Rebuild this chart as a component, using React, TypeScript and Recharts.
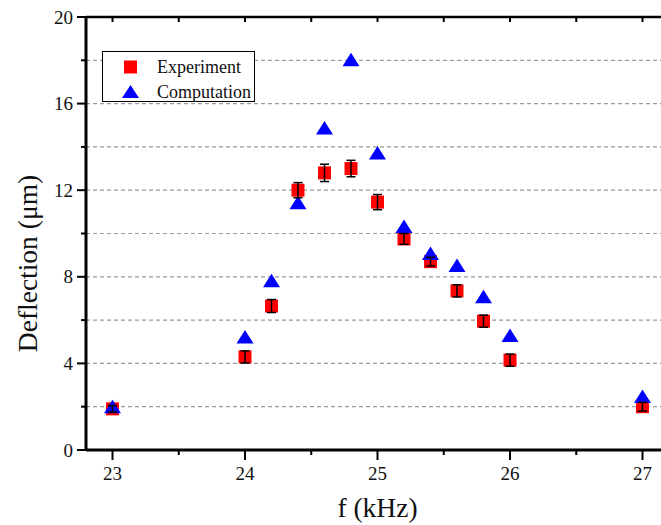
import { ComposedChart, Scatter, XAxis, YAxis, CartesianGrid, ErrorBar } from 'recharts';

const freq = [23, 24, 24.2, 24.4, 24.6, 24.8, 25, 25.2, 25.4, 25.6, 25.8, 26, 27];
const experiment = [1.9, 4.3, 6.65, 12.0, 12.8, 13.0, 11.45, 9.75, 8.7, 7.35, 5.95, 4.15, 2.0];
const experimentErr = [0.15, 0.28, 0.3, 0.35, 0.4, 0.38, 0.35, 0.25, 0.2, 0.28, 0.28, 0.28, 0.2];
const computation = [1.98, 5.2, 7.8, 11.4, 14.85, 18.0, 13.7, 10.3, 9.05, 8.5, 7.06, 5.26, 2.45];

const xTicks = [23, 23.5, 24, 24.5, 25, 25.5, 26, 26.5, 27];
const yTicks = [0, 2, 4, 6, 8, 10, 12, 14, 16, 18, 20];

const data = freq.map((f, i) => ({
  f,
  experiment: experiment[i],
  err: experimentErr[i],
  computation: computation[i],
}));

const FONT = '"Liberation Serif", "Times New Roman", serif';

const Square = (props: any) => {
  const { cx, cy } = props;
  if (cx == null || cy == null) return null;
  return <rect x={cx - 6.5} y={cy - 6.5} width={13} height={13} fill="#ff0000" />;
};

const Triangle = (props: any) => {
  const { cx, cy } = props;
  if (cx == null || cy == null) return null;
  return <polygon points={`${cx},${cy - 7.5} ${cx + 8.5},${cy + 6} ${cx - 8.5},${cy + 6}`} fill="#0000ff" />;
};

const YTick = (props: any) => {
  const { x, y, payload } = props;
  const major = payload.value % 4 === 0;
  return (
    <g>
      <line x1={x - (major ? 9 : 5)} x2={x} y1={y} y2={y} stroke="#000" strokeWidth={2} />
      {major && (
        <text x={x - 13} y={y} textAnchor="end" dominantBaseline="central" style={{ fontSize: 19, fontFamily: FONT, fill: '#111' }}>
          {payload.value}
        </text>
      )}
    </g>
  );
};

const XTick = (props: any) => {
  const { x, y, payload } = props;
  const major = Number.isInteger(payload.value);
  return (
    <g>
      <line x1={x} x2={x} y1={y} y2={y + (major ? 10 : 5)} stroke="#000" strokeWidth={2} />
      {major && (
        <text x={x} y={y + 23} textAnchor="middle" dominantBaseline="central" style={{ fontSize: 19, fontFamily: FONT, fill: '#111' }}>
          {payload.value}
        </text>
      )}
    </g>
  );
};

const TopTick = (props: any) => {
  const { x, y } = props;
  return <line x1={x} x2={x} y1={y} y2={y + 5} stroke="#000" strokeWidth={2} />;
};

const YTitle = (props: any) => {
  const vb = props.viewBox;
  const cx = vb.x + 27;
  const cy = vb.y + vb.height / 2 + 30;
  return (
    <text x={cx} y={cy} transform={`rotate(-90, ${cx}, ${cy})`} textAnchor="middle" dominantBaseline="central" style={{ fontSize: 27.5, fontFamily: FONT, fill: '#111' }}>
      Deflection (μm)
    </text>
  );
};

const XTitle = (props: any) => {
  const vb = props.viewBox;
  return (
    <text x={vb.x + vb.width / 2} y={vb.y + 67} textAnchor="middle" style={{ fontSize: 27.5, fontFamily: FONT, fill: '#111' }}>
      f (kHz)
    </text>
  );
};

const LegendBox = () => (
  <div
    style={{
      position: 'absolute',
      left: 102,
      top: 51,
      width: 153,
      height: 51,
      boxSizing: 'border-box',
      border: '1px solid #000',
      background: '#fff',
      fontFamily: FONT,
      fontSize: 18,
      color: '#111',
    }}
  >
    <svg width={40} height={51} style={{ position: 'absolute', left: 0, top: 0 }}>
      <rect x={21} y={8.5} width={13} height={13} fill="#ff0000" />
      <polygon points="27.5,33 36,46 19,46" fill="#0000ff" />
    </svg>
    <div style={{ position: 'absolute', left: 54, top: 4, lineHeight: '22px' }}>Experiment</div>
    <div style={{ position: 'absolute', left: 54, top: 29, lineHeight: '22px' }}>Computation</div>
  </div>
);

export default function App() {
  const errorBarProps: any = { zIndex: 650 };
  return (
    <div style={{ position: 'absolute', left: 0, top: 0, width: 661, height: 525, overflow: 'hidden', background: '#fff' }}>
      <ComposedChart width={680} height={525} data={data} margin={{ top: 0, right: 11, bottom: 0, left: 0 }}>
        <CartesianGrid vertical={false} stroke="#9a9a9a" strokeDasharray="4 3" strokeWidth={1.2} />
        <XAxis
          dataKey="f"
          type="number"
          domain={[22.8, 27.2]}
          allowDataOverflow
          ticks={xTicks}
          interval={0}
          height={75}
          tickSize={0}
          tickMargin={0}
          tickLine={false}
          axisLine={{ stroke: '#000', strokeWidth: 3 }}
          tick={<XTick />}
          label={<XTitle />}
        />
        <XAxis
          xAxisId="top"
          orientation="top"
          dataKey="f"
          type="number"
          domain={[22.8, 27.2]}
          allowDataOverflow
          ticks={xTicks}
          interval={0}
          height={17}
          tickSize={0}
          tickMargin={0}
          tickLine={false}
          axisLine={{ stroke: '#000', strokeWidth: 2.5 }}
          tick={<TopTick />}
        />
        <YAxis
          type="number"
          domain={[0, 20]}
          ticks={yTicks}
          interval={0}
          width={86}
          tickSize={0}
          tickMargin={0}
          tickLine={false}
          axisLine={{ stroke: '#000', strokeWidth: 3 }}
          tick={<YTick />}
          label={<YTitle />}
        />
        <Scatter name="Experiment" dataKey="experiment" shape={<Square />} isAnimationActive={false}>
          <ErrorBar dataKey="err" direction="y" width={4.5} stroke="#000" strokeWidth={1.5} {...errorBarProps} />
        </Scatter>
        <Scatter name="Computation" dataKey="computation" shape={<Triangle />} isAnimationActive={false} />
      </ComposedChart>
      <LegendBox />
    </div>
  );
}
